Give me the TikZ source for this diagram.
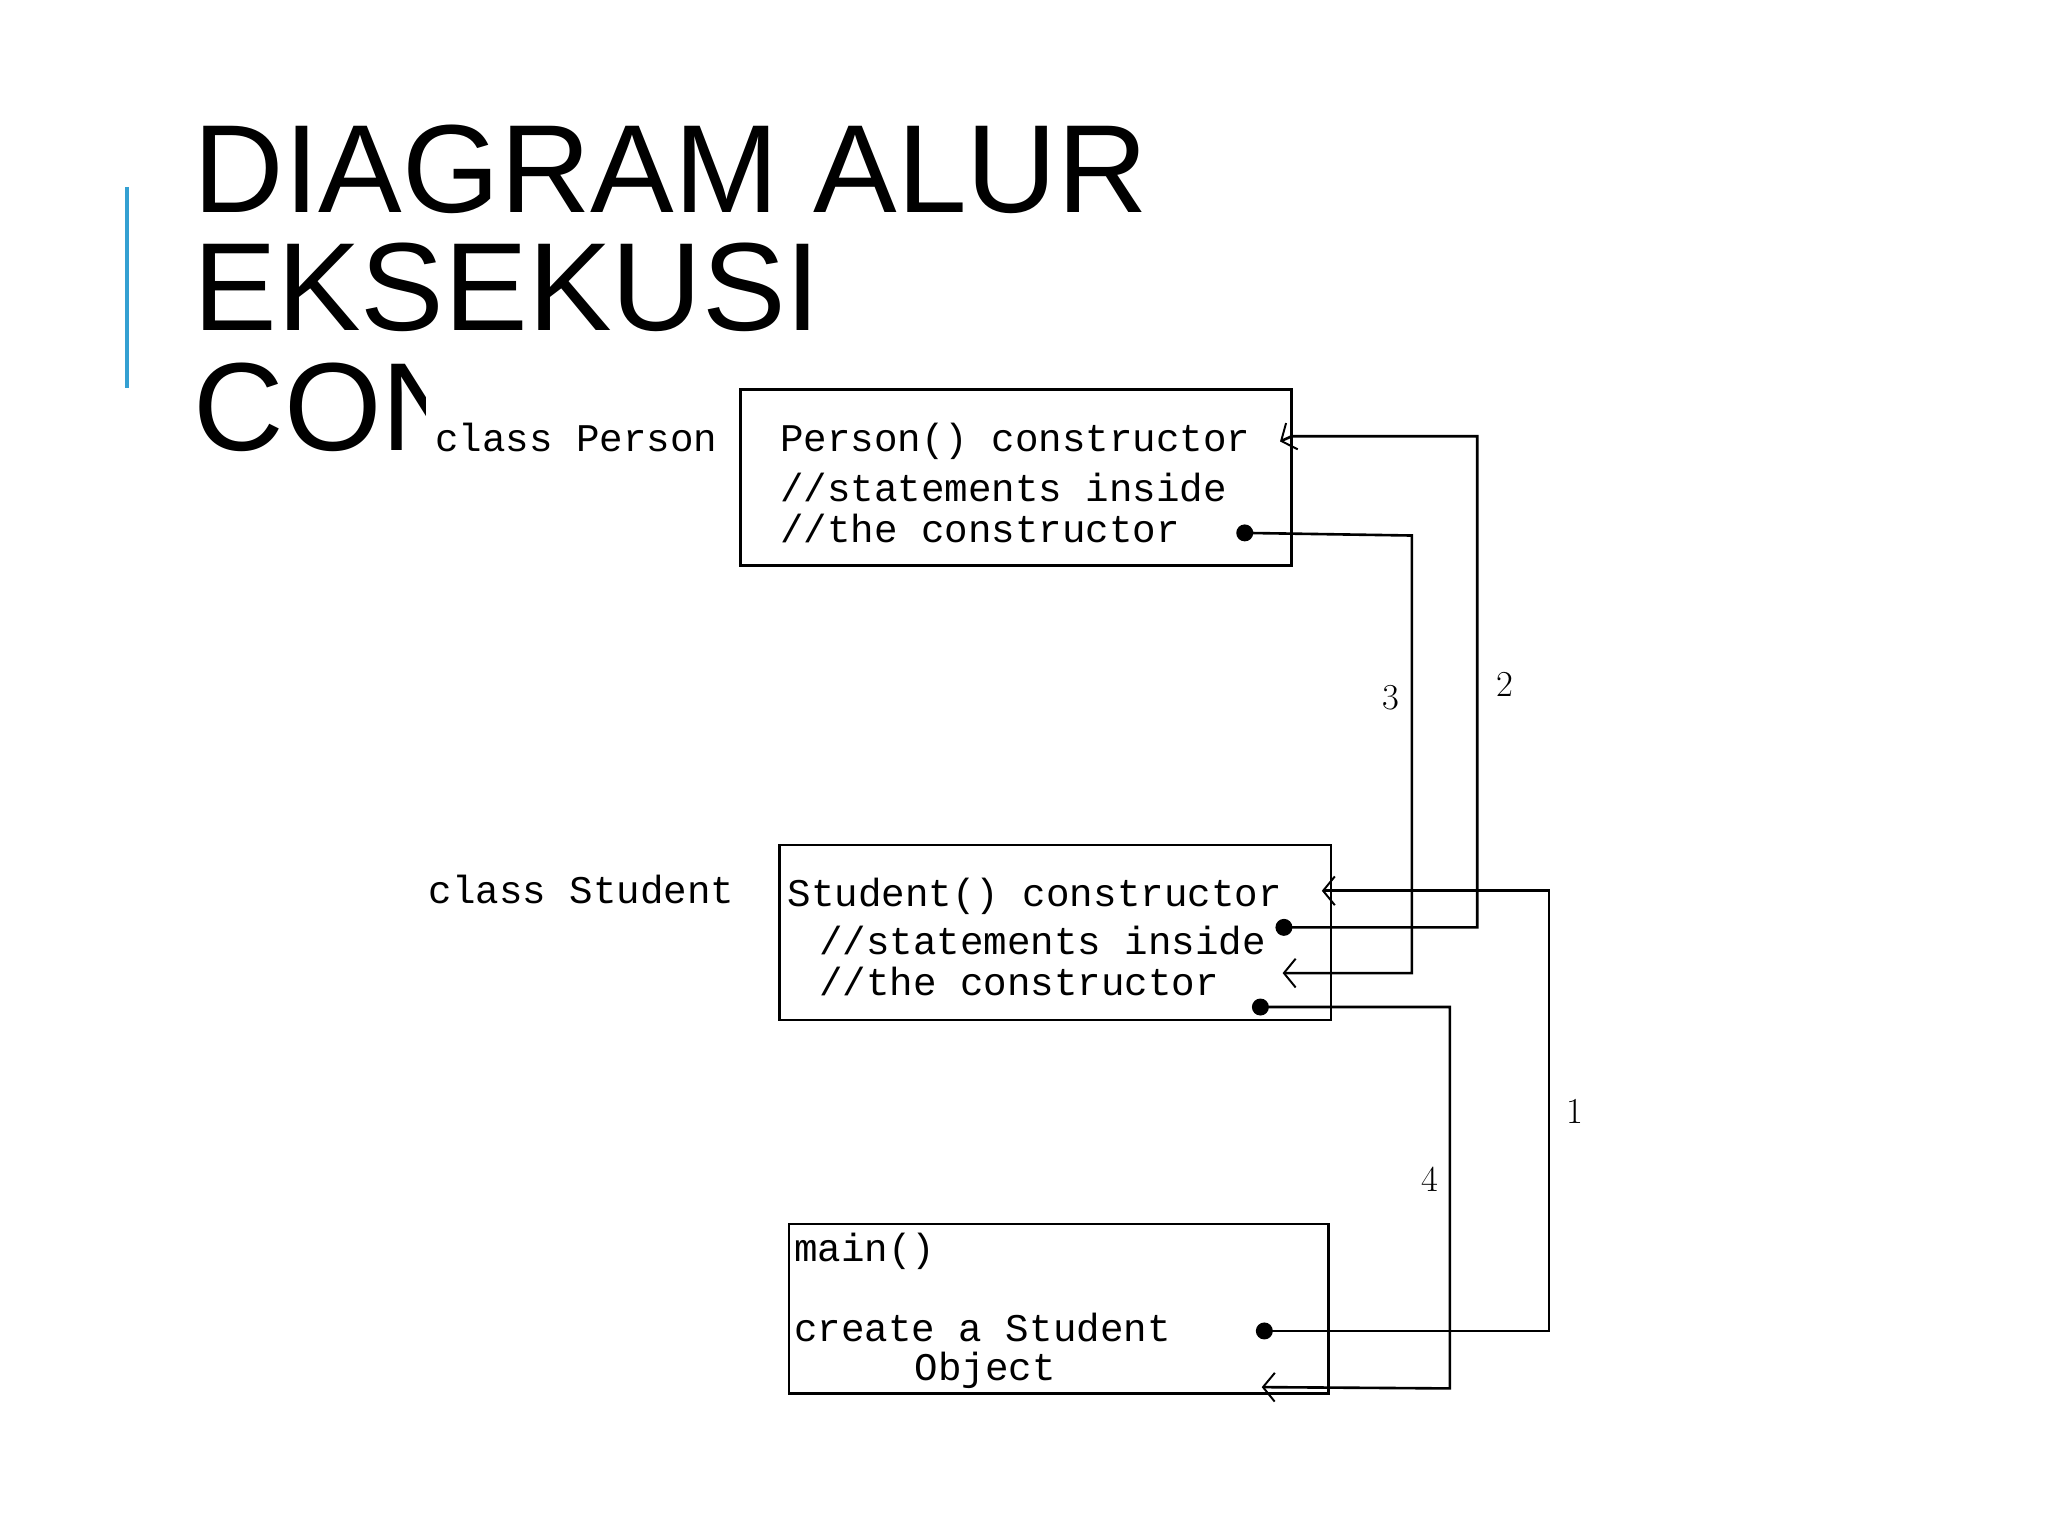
\documentclass[tikz,border=0pt]{standalone}
\usepackage{fontspec}
\setmainfont{Liberation Sans}
\newfontfamily\monof{Liberation Mono}
\usetikzlibrary{arrows.meta}
\tikzset{
 mono/.style={font=\monof\fontsize{30}{30}\selectfont, anchor=base west, inner sep=0pt},
 ttl/.style={font=\fontsize{96}{96}\selectfont, anchor=base west, inner sep=0pt},
 num/.style={font=\fontfamily{lmr}\fontsize{28}{28}\selectfont, anchor=base, inner sep=0pt},
 cbox/.style={draw, line width=2pt},
 flow/.style={line width=2pt},
 tip/.style={-{Straight Barb[length=9pt,width=22pt,line width=1.5pt]}},
 dot/.style={circle, fill, inner sep=0pt, minimum size=13pt}
}
\begin{document}
\begin{tikzpicture}[x=1pt,y=-1pt]
\useasboundingbox (0,0) rectangle (1568,1176);
\draw[line width=3pt, color={rgb,255:red,52;green,160;blue,210}] (97,143) -- (97,297);
\node[ttl] (t1) at (148,163) {DIAGRAM ALUR};
\node[ttl] (t2) at (148,253) {EKSEKUSI};
\node[ttl] (t3) at (148,345) {CONSTRUCTOR};
\fill[white] (326,262) rectangle (1250,1100);
% boxes
\draw[cbox] (567,298) rectangle (989,433);
\draw[cbox] (597,647) rectangle (1019,781);
\draw[cbox] (604,937) rectangle (1017,1067);
\node[mono] (cp) at (333,346) {class Person};
\node[mono] (p1) at (597,346) {Person() constructor};
\node[mono] (p2) at (597,384) {//statements inside};
\node[mono] (p3) at (597,415) {//the constructor};
\node[mono] (cs) at (328,692) {class Student};
\node[mono] (s1) at (603,694) {Student() constructor};
\node[mono] (s2) at (627,731) {//statements inside};
\node[mono] (s3) at (627,762) {//the constructor};
\node[mono] (m1) at (608,966) {main()};
\node[mono] (m2) at (608,1027) {create a Student};
\node[mono] (m3) at (700,1057) {Object};
% dots and tip coordinates
\node[dot] (d2) at (983,710) {};
\node[dot] (d3) at (953,408) {};
\node[dot] (d1) at (968,1019) {};
\node[dot] (d4) at (965,771) {};
\coordinate (a2) at (980,338);
\coordinate (a3) at (982,745);
\coordinate (a1) at (1012,682);
\coordinate (a4) at (966,1062);
% flows
\draw[flow,tip] (d1.center) -- (1186,1019) -- (1186,682) -- (a1);
\draw[flow,tip] (d2.center) -- (1131,710) -- (1131,334) -- (989,334) -- (a2);
\draw[flow,tip] (d3.center) -- (1081,410) -- (1081,745) -- (a3);
\draw[flow,tip] (d4.center) -- (1110,771) -- (1110,1063) -- (a4);
\node[num] (n1) at (1206,860) {1};
\node[num] (n2) at (1152,533) {2};
\node[num] (n3) at (1065,543) {3};
\node[num] (n4) at (1095,912) {4};
\end{tikzpicture}
\end{document}
